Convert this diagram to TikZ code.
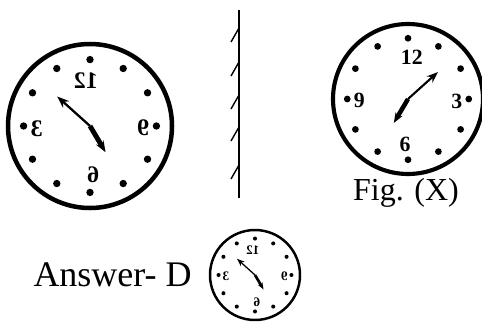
\documentclass[tikz,border=0pt]{standalone}
\usepackage{fontspec}
\setmainfont{Liberation Serif}
\usetikzlibrary{arrows.meta}
% one clock: #1 name, #2 x, #3 y, #4 radius, #5 1 or -1 (mirror)
\newcommand{\clockdial}[5]{%
  \pgfmathsetmacro{\dialfs}{0.29*#4}%
  \begin{scope}[shift={(#2,#3)},xscale=#5*#4,yscale=#4]
    \draw[line width=0.055*#4] (0,0) circle[radius=1];
    \foreach \a in {0,30,...,330}
      \fill (\a:0.81) circle[radius=0.045];
    \node[numeral,xscale=#5] (#1-12) at (0.05,-0.55) {12};
    \node[numeral,xscale=#5] (#1-3) at (0.65,0.03) {3};
    \node[numeral,xscale=#5] (#1-6) at (-0.04,0.6) {6};
    \node[numeral,xscale=#5] (#1-9) at (-0.65,0.02) {9};
    \coordinate (#1-c) at (0,0);
    \coordinate (#1-m) at (0.4,-0.36);
    \coordinate (#1-h) at (-0.19,0.32);
    \draw[line width=0.028*#4,-{Stealth[scale=0.9]}] (#1-c) -- (#1-m);
    \draw[line width=0.06*#4,-{Stealth[scale=0.45]}] (#1-c) -- (#1-h);
  \end{scope}}
\begin{document}
\begin{tikzpicture}[x=1pt,y=-1pt,line width=1pt,
  numeral/.style={font=\fontsize{\dialfs}{\dialfs}\selectfont\bfseries,inner sep=0pt},
  caption/.style={font=\fontsize{32}{36}\selectfont,inner sep=0pt}]
\useasboundingbox (0,0) rectangle (482,322);
% mirror
\coordinate (mtop) at (239,10);
\coordinate (mbot) at (239,198);
\draw[line width=1.8pt] (mtop) -- (mbot);
\foreach \y in {28,62,95,127,165}
  \draw[line width=1.4pt] (239,\y) -- ++(-8,14);
% clocks
\clockdial{L}{90}{126}{82}{-1}
\clockdial{X}{408}{99}{75}{1}
\clockdial{D}{255}{275}{45}{-1}
\node[caption] (figx) at (406,193) {Fig. (X)};
\node[caption,font=\fontsize{36}{40}\selectfont,anchor=west] (answer) at (33,275) {Answer- D};
\end{tikzpicture}
\end{document}
